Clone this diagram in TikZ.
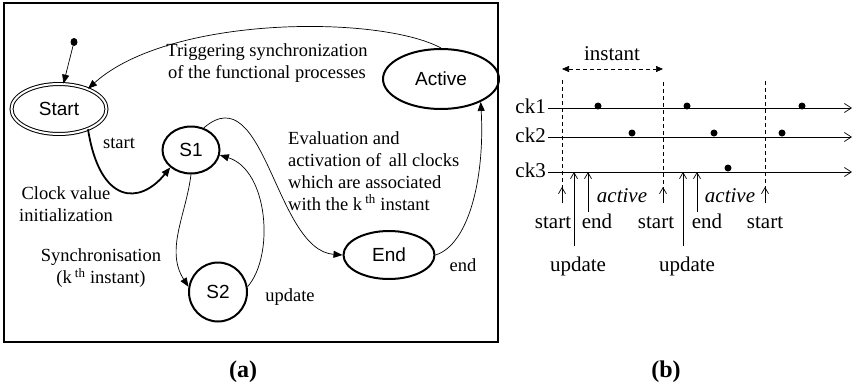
\documentclass[tikz,border=0pt]{standalone}
\usepackage{fontspec}
\setmainfont{Liberation Serif}
\setsansfont{Liberation Sans}
\usetikzlibrary{shapes.geometric,arrows.meta}

\tikzset{
  state/.style={ellipse, draw, line width=2pt, inner sep=0pt,
    font=\sffamily\fontsize{19}{22}\selectfont},
  arr/.style={-{Triangle[length=9pt,width=7pt]}, line width=0.7pt},
  thickarr/.style={-{Triangle[length=9pt,width=7pt]}, line width=1.8pt},
  lbl/.style={inner sep=0pt, font=\fontsize{18.5}{22}\selectfont},
  lblb/.style={inner sep=0pt, anchor=base, font=\fontsize{21}{24}\selectfont},
  capt/.style={inner sep=0pt, font=\bfseries\fontsize{24}{26}\selectfont},
  upar/.style={-{Straight Barb[length=6pt,width=7pt]}, line width=0.7pt},
  tline/.style={-{Straight Barb[length=7pt,width=9pt]}, line width=0.7pt},
  vdash/.style={line width=0.7pt, dash pattern=on 4pt off 3pt}
}

\begin{document}
\begin{tikzpicture}[x=1pt,y=-1pt]
  \useasboundingbox (0,0) rectangle (852,386);

  % (a) state machine
  \draw[line width=1.5pt] (4,3) rectangle (498,342);

  \node[ellipse, fill, minimum width=7pt, minimum height=8pt, inner sep=0pt] (init) at (74,42) {};
  \node[state, line width=1pt, double, double distance=2pt, minimum width=95pt, minimum height=50pt] (start) at (59,109) {Start};
  \node[state, minimum width=57pt, minimum height=47pt] (s1) at (191,150) {S1};
  \node[state, minimum width=58pt, minimum height=59pt] (s2) at (218,292) {S2};
  \node[state, minimum width=91pt, minimum height=48pt] (fin) at (389,255) {End};
  \node[state, minimum width=116pt, minimum height=60pt] (active) at (441,79) {Active};

  \draw[arr] (init) -- (start.80);
  \draw[arr] (active.north) .. controls (380,15) and (170,15) .. (start.35);
  \draw[thickarr] (start.-35) .. controls (100,205) and (140,205) .. (s1.-140);
  \draw[arr] (s1.south) .. controls (186,215) and (165,250) .. (s2.170);
  \draw[arr] (s2.10) .. controls (275,255) and (268,170) .. (s1.-10);
  \draw[arr] (s1.60) .. controls (265,75) and (275,250) .. (fin.west);
  \draw[arr] (fin.east) .. controls (468,245) and (485,180) .. (active.-30);

  \node[lbl, align=center] (trig) at (267,63) {Triggering synchronization\\of the functional processes};
  \node[lbl] (lstart) at (119,143) {start};
  \node[lbl, align=center] (clk) at (66,204) {Clock value\\initialization};
  \node[lbl, align=center] (sync) at (101,268) {Synchronisation\\(k\,\textsuperscript{th} instant)};
  \node[lbl] (lupd) at (290,297) {update};
  \node[lbl, anchor=north west, align=left] (eval) at (288,131)
    {Evaluation and\\activation of\, all clocks\\which are associated\\with the k\,\textsuperscript{th} instant};
  \node[lbl] (lend) at (463,265) {end};
  \node[capt] (capa) at (243,372) {(a)};

  % (b) clocks and instants
  \foreach \y/\n in {108/1,137/2,172/3} {
    \draw[tline] (548,\y) -- (852,\y);
    \node[lblb, anchor=base east] (ck\n) at (546,\y+5) {ck\n};
  }
  \foreach \x/\y in {598/106,687/106,802/106,632/133,714/133,782/133,728/168}
    \fill (\x,\y) circle (3.5pt);

  \draw[vdash, {Triangle[length=7pt,width=6pt]}-{Triangle[length=7pt,width=6pt]}] (562,69) -- (663,69);
  \node[lblb] (inst) at (612,60) {instant};

  \foreach \x/\t in {562/80,663/82,765/81}
    \draw[vdash] (\x,\t) -- (\x,189);
  \foreach \x in {562,663,765}
    \draw[upar] (\x,203) -- (\x,187);
  \foreach \x in {574,683}
    \draw[upar] (\x,246) -- (\x,172);
  \foreach \x in {588,697}
    \draw[upar] (\x,212) -- (\x,172);

  \node[lblb] (st1) at (553,228) {start};
  \node[lblb] (st2) at (656,228) {start};
  \node[lblb] (st3) at (765,228) {start};
  \node[lblb] (en1) at (597,228) {end};
  \node[lblb] (en2) at (707,228) {end};
  \node[lblb] (up1) at (578,271) {update};
  \node[lblb] (up2) at (687,271) {update};
  \node[lblb] (ac1) at (622,202) {\itshape active};
  \node[lblb] (ac2) at (730,202) {\itshape active};
  \node[capt] (capb) at (666,372) {(b)};
\end{tikzpicture}
\end{document}
